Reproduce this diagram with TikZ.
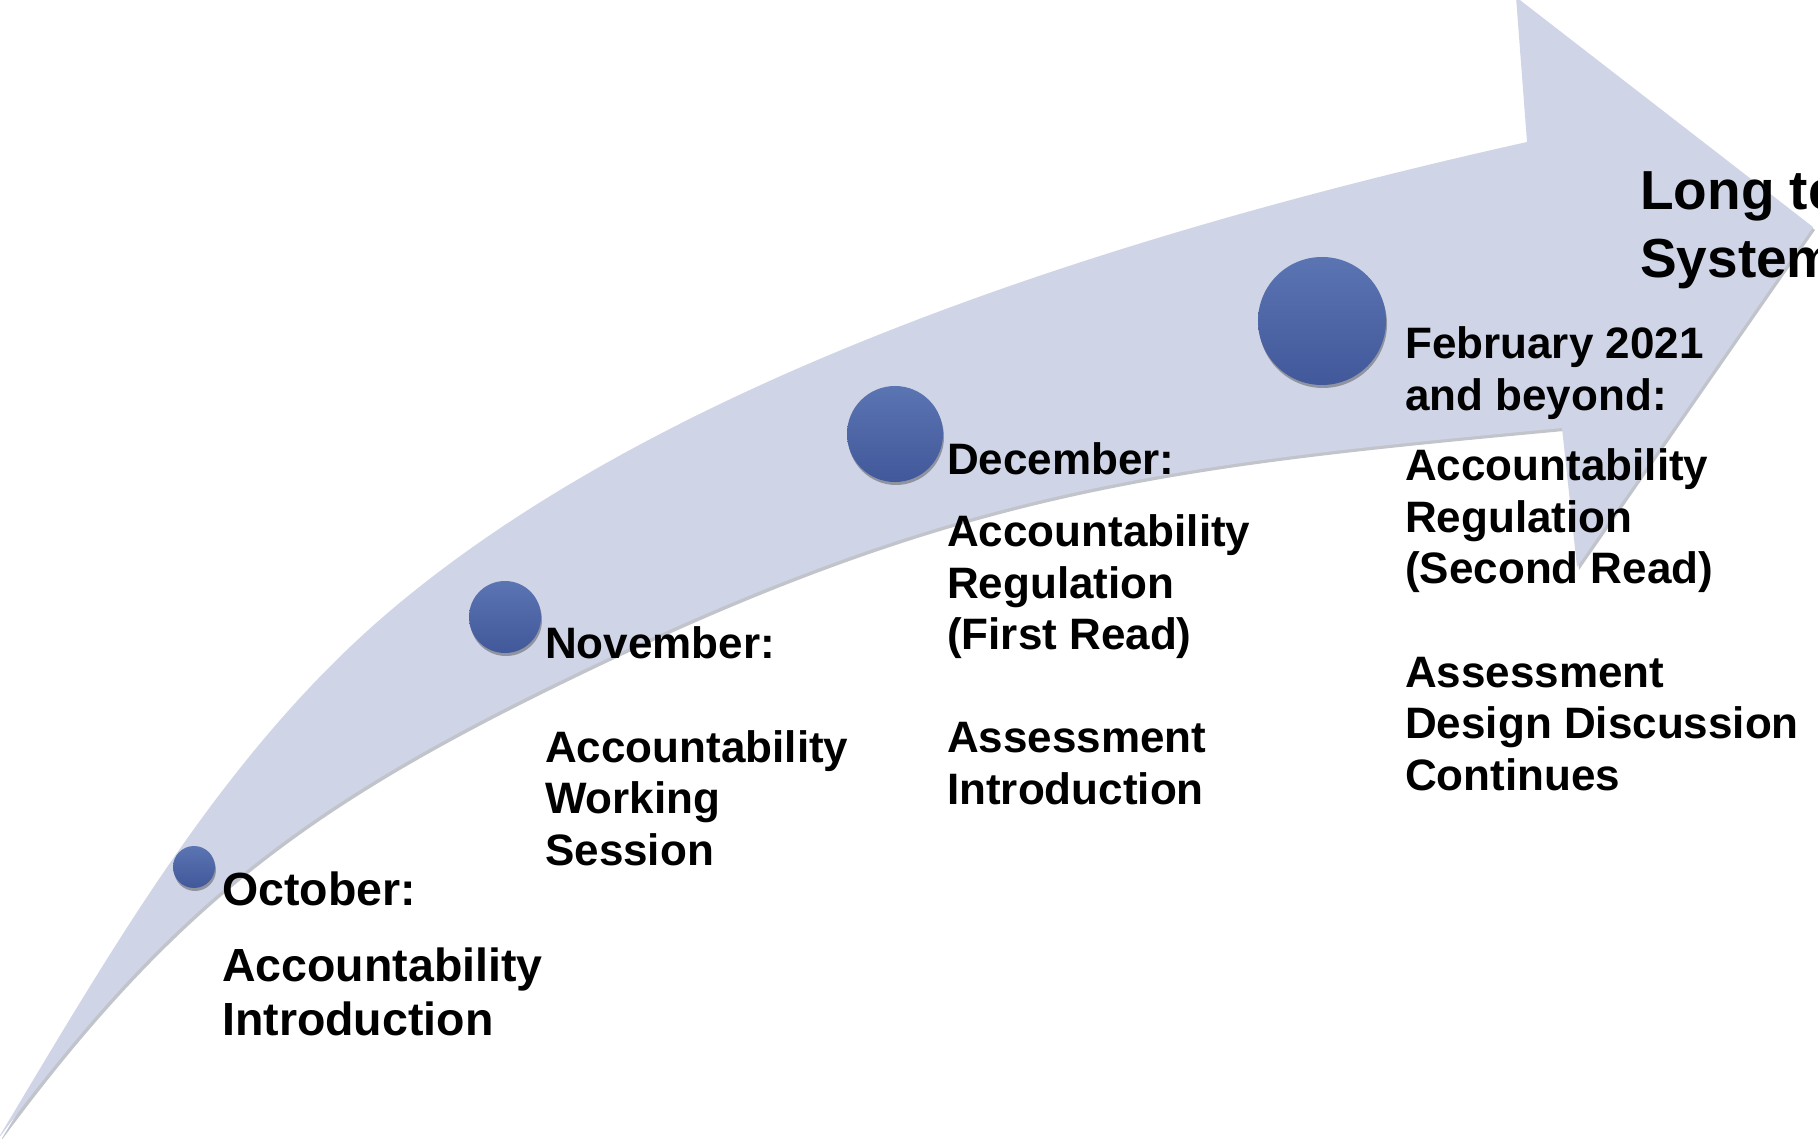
\documentclass[tikz,border=0pt]{standalone}
\usepackage{fontspec}
\setmainfont{Liberation Sans}
\usetikzlibrary{shadows}

\definecolor{ribbonfill}{HTML}{CFD4E6}
\definecolor{ribbonshade}{HTML}{9A9DA8}
\definecolor{dottop}{HTML}{5B74B2}
\definecolor{dotbottom}{HTML}{41589A}

\tikzset{
  % curved timeline ribbon ending in an arrow head
  ribbon outline/.style={insert path={
    (-4,1142) .. controls (108,956) and (219,759) .. (383,617)
    .. controls (648,388) and (1088,240) .. (1527,142)
    -- (1516,-3) -- (1813,227) -- (1577,567) -- (1562,428)
    .. controls (1164,465) and (962,488) .. (583,670)
    .. controls (312,800) and (174,900) .. (-4,1142)
    -- cycle}},
  milestone/.style={circle, inner sep=0pt, top color=dottop, bottom color=dotbottom,
    drop shadow={shadow xshift=1pt, shadow yshift=-3pt, opacity=0.3, fill=black}},
  % anchored at the baseline of the last line
  stagetext/.style={anchor=base west, inner sep=0pt, align=left,
    font=\bfseries\fontsize{44}{51.5}\selectfont},
}

\begin{document}
\begin{tikzpicture}[x=1pt, y=-1pt]
  \useasboundingbox (0,0) rectangle (1818,1139);
  \clip (0,0) rectangle (1818,1139);

  % soft edge under the ribbon, then the ribbon itself
  \path[fill=ribbonshade, opacity=0.6, shift={(2,3)}, ribbon outline];
  \path[fill=ribbonfill, ribbon outline];

  % milestone dots, growing along the ribbon
  \node[milestone, minimum size=42pt]  (octdot) at (194,867) {};
  \node[milestone, minimum size=72pt]  (novdot) at (505,617) {};
  \node[milestone, minimum size=96pt]  (decdot) at (895,434) {};
  \node[milestone, minimum size=128pt] (febdot) at (1322,321) {};

  % milestone descriptions
  \node[stagetext, font=\bfseries\fontsize{46.5}{54}\selectfont] (octtext) at (222,1035)
    {October:\\[22pt]Accountability\\Introduction};
  \node[stagetext] (novtext) at (545,865)
    {November:\\[52.5pt]Accountability\\Working\\Session};
  \node[stagetext] (dectext) at (947,804)
    {December:\\[21pt]Accountability\\Regulation\\(First Read)\\[51.5pt]Assessment\\Introduction};
  \node[stagetext] (febtext) at (1405,790)
    {February 2021\\and beyond:\\[19pt]Accountability\\Regulation\\(Second Read)\\[52pt]Assessment\\Design Discussion\\Continues};

  \node[stagetext, font=\bfseries\fontsize{55}{68}\selectfont] (goaltext) at (1640,278)
    {Long term\\System};
\end{tikzpicture}
\end{document}
